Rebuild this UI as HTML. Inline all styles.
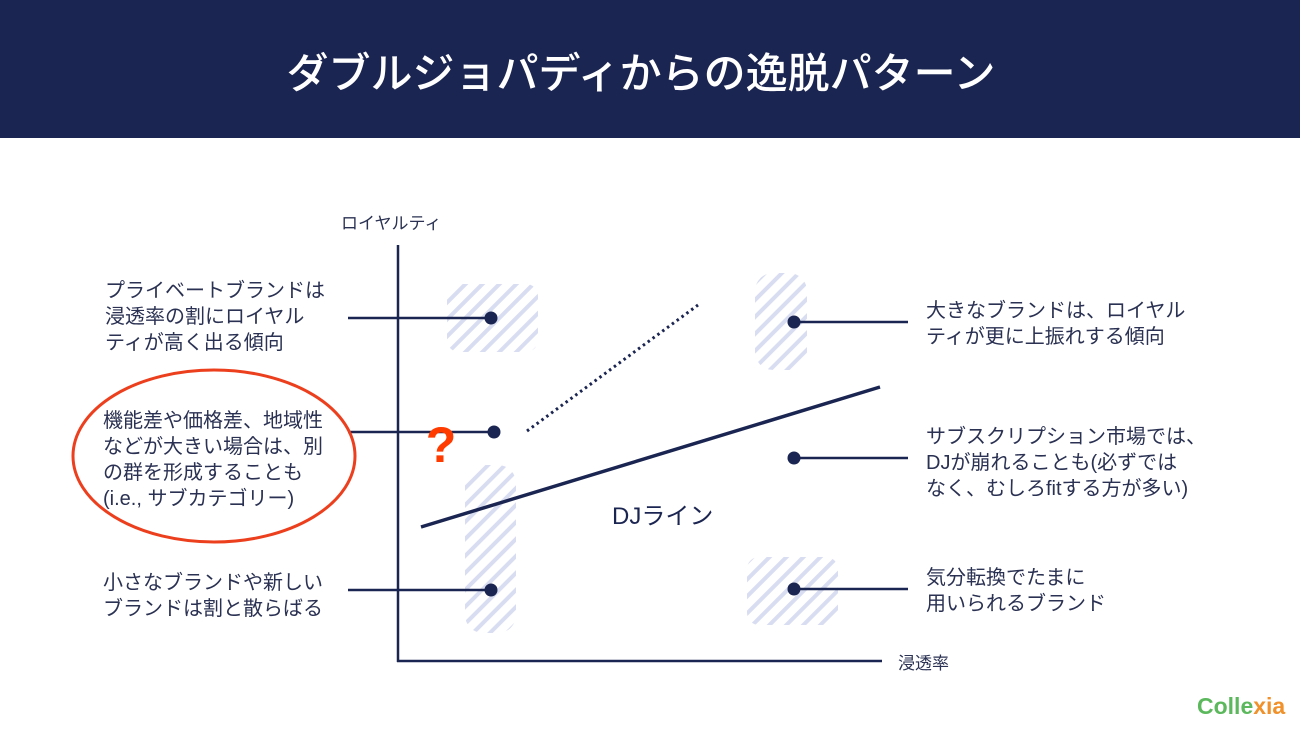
<!DOCTYPE html>
<html><head><meta charset="utf-8"><style>
html,body{margin:0;padding:0;background:#fff;}
body{width:1300px;height:731px;overflow:hidden;position:relative;font-family:"Liberation Sans","Noto Sans CJK JP",sans-serif;}
</style></head><body>
<svg width="1300" height="731" xmlns="http://www.w3.org/2000/svg" style="position:absolute;left:0;top:0">
<defs>
<pattern id="h" patternUnits="userSpaceOnUse" width="12" height="12" patternTransform="rotate(45)">
<rect width="12" height="12" fill="#fff"/>
<rect width="4" height="12" fill="#d9ddf1"/>
</pattern>
</defs>
<rect x="0" y="0" width="1300" height="138" fill="#1b2551"/>
<text x="641" y="88" text-anchor="middle" fill="#fff" font-size="42" font-family="Noto Sans CJK JP, sans-serif" font-weight="500">ダブルジョパディからの逸脱パターン</text>

<rect x="447" y="284" width="91" height="68" rx="12" fill="url(#h)"/>
<rect x="755" y="273" width="52" height="97" rx="18" fill="url(#h)"/>
<rect x="465" y="465" width="51" height="168" rx="18" fill="url(#h)"/>
<rect x="747" y="557" width="91" height="68" rx="12" fill="url(#h)"/>

<g stroke="#1b2551" stroke-width="2.5" fill="none">
<line x1="398" y1="245" x2="398" y2="662"/>
<line x1="397" y1="661" x2="882" y2="661"/>
<line x1="421" y1="527" x2="880" y2="387" stroke-width="3.5"/>
<line x1="527" y1="431" x2="698" y2="305" stroke-width="3" stroke-dasharray="2.5 3.5"/>
<line x1="348" y1="318" x2="491" y2="318"/>
<line x1="348" y1="432" x2="494" y2="432"/>
<line x1="348" y1="590" x2="491" y2="590"/>
<line x1="794" y1="322" x2="908" y2="322"/>
<line x1="794" y1="458" x2="908" y2="458"/>
<line x1="794" y1="589" x2="908" y2="589"/>
</g>
<g fill="#1b2551">
<circle cx="491" cy="318" r="6.5"/><circle cx="494" cy="432" r="6.5"/><circle cx="491" cy="590" r="6.5"/>
<circle cx="794" cy="322" r="6.5"/><circle cx="794" cy="458" r="6.5"/><circle cx="794" cy="589" r="6.5"/>
</g>
<ellipse cx="214" cy="456" rx="141" ry="86" fill="none" stroke="#ec3f1e" stroke-width="3"/>
<text x="441" y="462" text-anchor="middle" fill="#ff3b00" font-size="50" font-weight="bold">?</text>

<g fill="#2a3152" font-size="20" font-family="Liberation Sans, Noto Sans CJK JP, sans-serif">
<text x="341" y="229" font-size="17">ロイヤルティ</text>
<text x="898" y="669" font-size="17">浸透率</text>
<text x="612" y="524" font-size="24" fill="#1b2551">DJライン</text>
<text x="105" y="297">プライベートブランドは</text>
<text x="105" y="323">浸透率の割にロイヤル</text>
<text x="105" y="349">ティが高く出る傾向</text>
<text x="103" y="427">機能差や価格差、地域性</text>
<text x="103" y="453">などが大きい場合は、別</text>
<text x="103" y="479">の群を形成することも</text>
<text x="103" y="505">(i.e., サブカテゴリー)</text>
<text x="103" y="589">小さなブランドや新しい</text>
<text x="103" y="615">ブランドは割と散らばる</text>
<text x="926" y="317">大きなブランドは、ロイヤル</text>
<text x="926" y="343">ティが更に上振れする傾向</text>
<text x="926" y="443">サブスクリプション市場では、</text>
<text x="926" y="469">DJが崩れることも(必ずでは</text>
<text x="926" y="495">なく、むしろfitする方が多い)</text>
<text x="926" y="584">気分転換でたまに</text>
<text x="926" y="610">用いられるブランド</text>
</g>
<text x="1197" y="714" font-size="23" font-weight="bold" fill="#5cb85c">Colle<tspan fill="#f0912a">xia</tspan></text>
</svg>
</body></html>
